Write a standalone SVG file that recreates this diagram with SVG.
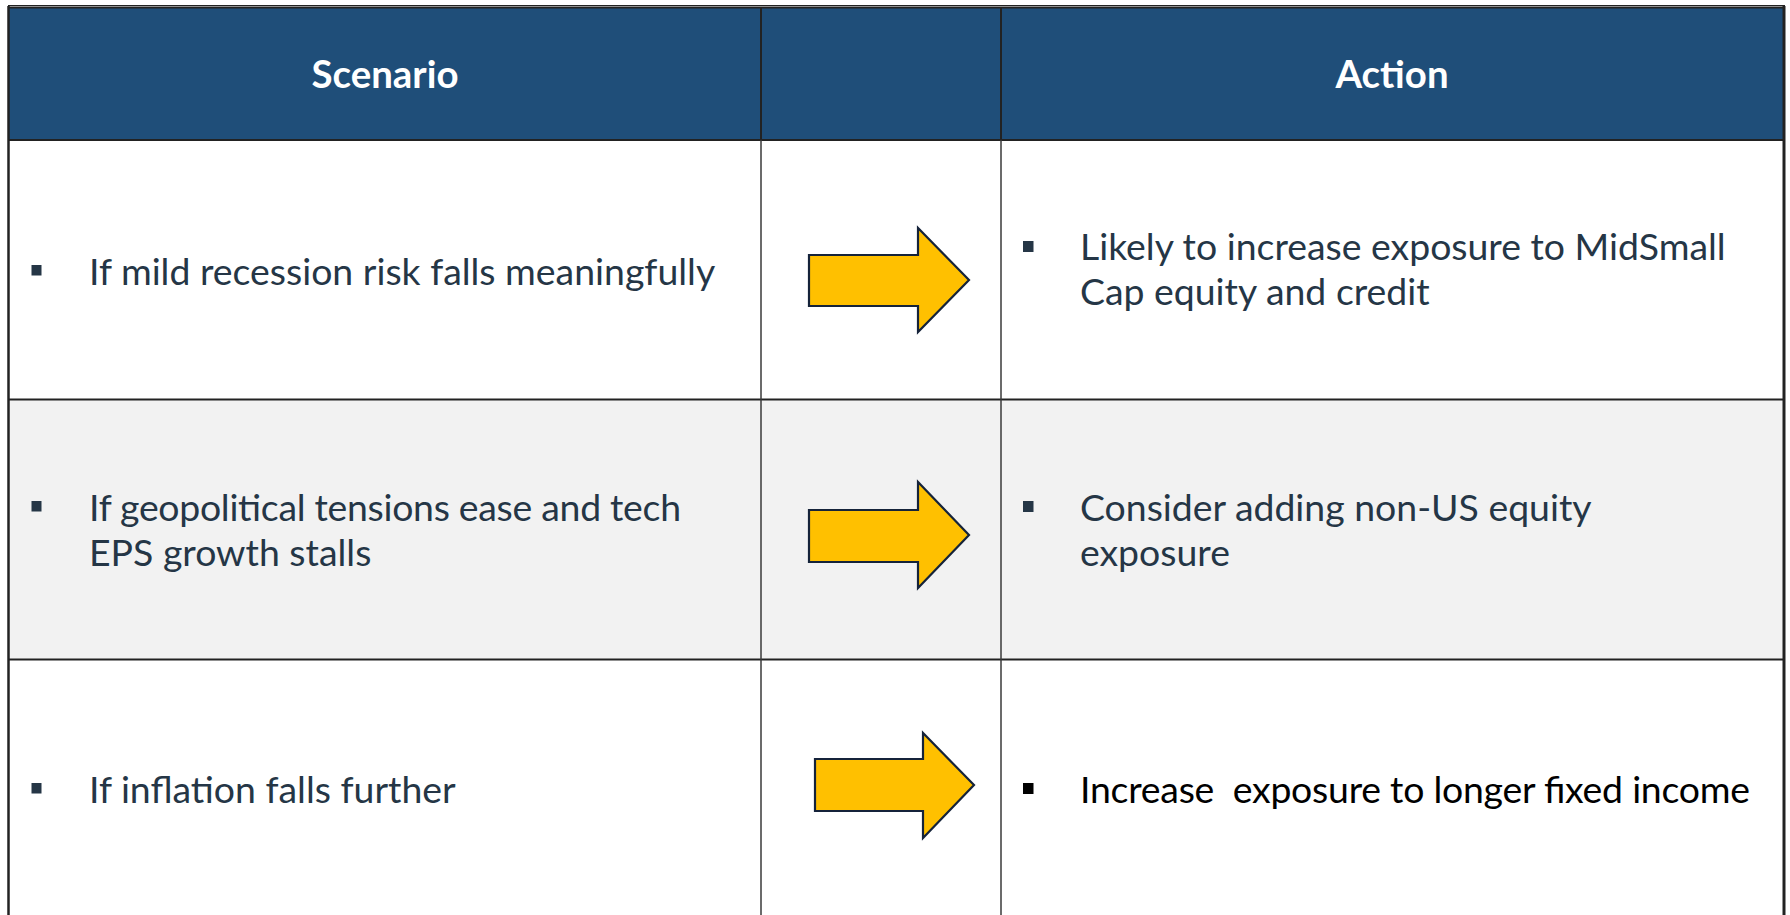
<svg xmlns="http://www.w3.org/2000/svg" width="1790" height="915" viewBox="0 0 1790 915">
  <style>
    .hdr { font-family: Lato, "Liberation Sans", sans-serif; font-weight: 700; font-size: 38.4px; fill: #ffffff; text-anchor: middle; }
    .body { font-family: Lato, "Liberation Sans", sans-serif; font-size: 37.4px; fill: #253646; }
    .black { fill: #000000; }
    .bullet { fill: #253646; }
    .bulletk { fill: #000000; }
    .arrow { fill: #FFC000; stroke: #15233a; stroke-width: 2.2; stroke-linejoin: miter; }
    .grid { stroke: #222222; fill: none; }
    .gridc { stroke: #3a3a3a; fill: none; stroke-width: 1.5; }
  </style>

  <rect x="0" y="0" width="1790" height="915" fill="#ffffff"/>

  <!-- backgrounds -->
  <rect x="9" y="7" width="1775" height="133" fill="#1F4E79"/>
  <rect x="9" y="400" width="1775" height="259" fill="#F2F2F2"/>

  <!-- grid lines -->
  <g id="grid">
    <line class="grid" x1="8" y1="5.5" x2="1785" y2="5.5" stroke="#9a9a9a" stroke-width="1"/>
    <line class="grid" x1="8" y1="7.5" x2="1785" y2="7.5" stroke-width="2"/>
    <line class="grid" x1="9" y1="140" x2="1784" y2="140" stroke="#111" stroke-width="2.2"/>
    <line class="grid" x1="9" y1="399.5" x2="1784" y2="399.5" stroke-width="2"/>
    <line class="grid" x1="9" y1="659.5" x2="1784" y2="659.5" stroke-width="2"/>
    <line class="grid" x1="761" y1="7" x2="761" y2="140" stroke="#111" stroke-width="2"/>
    <line class="grid" x1="1001" y1="7" x2="1001" y2="140" stroke="#111" stroke-width="2"/>
    <line class="gridc" x1="761" y1="140" x2="761" y2="915"/>
    <line class="gridc" x1="1001" y1="140" x2="1001" y2="915"/>
    <line class="grid" x1="8.5" y1="6" x2="8.5" y2="915" stroke="#1a1a1a" stroke-width="2.5"/>
    <line class="grid" x1="1784" y1="6" x2="1784" y2="915" stroke="#111" stroke-width="3"/>
  </g>

  <!-- header -->
  <g id="header-scenario">
    <text class="hdr" x="385" y="88">Scenario</text>
  </g>
  <g id="header-action">
    <text class="hdr" x="1392" y="88">Action</text>
  </g>

  <!-- row 1 -->
  <g id="scenario-1">
    <rect class="bullet" x="31.5" y="265" width="10" height="10.5"/>
    <text class="body" x="89" y="285">If mild recession risk falls meaningfully</text>
  </g>
  <g id="action-1">
    <rect class="bullet" x="1023" y="241" width="10.5" height="11"/>
    <text class="body" x="1080" y="260">Likely to increase exposure to MidSmall</text>
    <text class="body" x="1080" y="305">Cap equity and credit</text>
  </g>

  <!-- row 2 -->
  <g id="scenario-2">
    <rect class="bullet" x="31.5" y="501" width="10" height="10.5"/>
    <text class="body" x="89" y="521" textLength="592" lengthAdjust="spacing">If geopolitical tensions ease and tech</text>
    <text class="body" x="89" y="566">EPS growth stalls</text>
  </g>
  <g id="action-2">
    <rect class="bullet" x="1023" y="501" width="10.5" height="11"/>
    <text class="body" x="1080" y="521">Consider adding non-US equity</text>
    <text class="body" x="1080" y="566">exposure</text>
  </g>

  <!-- row 3 -->
  <g id="scenario-3">
    <rect class="bullet" x="31.5" y="783" width="10" height="10.5"/>
    <text class="body" x="89" y="803">If inflation falls further</text>
  </g>
  <g id="action-3">
    <rect class="bulletk" x="1023" y="783" width="10.5" height="11"/>
    <text class="body black" x="1080" y="803" xml:space="preserve" textLength="670" lengthAdjust="spacing">Increase  exposure to longer fixed income</text>
  </g>

  <!-- connectors -->
  <g id="connectors">
    <polygon class="arrow" points="809,255 918,255 918,228 969,280 918,332 918,306 809,306"/>
    <polygon class="arrow" points="809,510 918,510 918,482 969,535 918,588 918,562 809,562"/>
    <polygon class="arrow" points="815,759 923,759 923,733 974,785 923,838 923,811 815,811"/>
  </g>
</svg>
